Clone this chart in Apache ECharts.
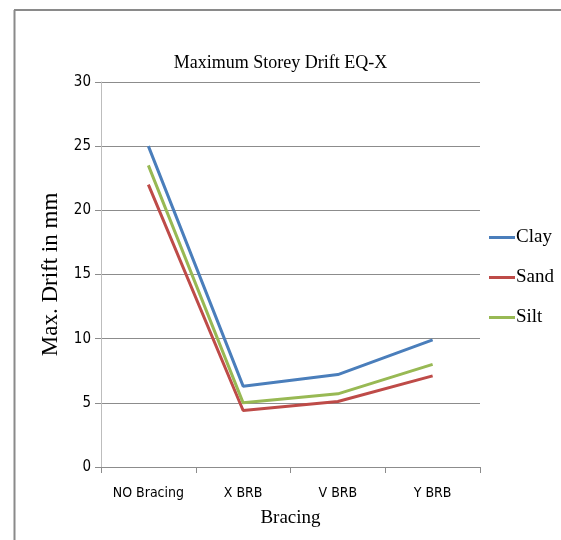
<!DOCTYPE html>
<html>
<head>
<meta charset="utf-8">
<script src="https://cdn.jsdelivr.net/npm/echarts@6/dist/echarts.min.js"></script>
<style>html,body{margin:0;padding:0;background:#fff;}#c{width:561px;height:540px;}</style>
</head>
<body>
<div id="c"></div>
<script>
const categories = ['NO Bracing', 'X BRB', 'V BRB', 'Y BRB'];
const clay = [25, 6.3, 7.2, 9.9];
const sand = [22, 4.4, 5.1, 7.1];
const silt = [23.5, 5.0, 5.7, 8.0];
const yTicks = [0, 5, 10, 15, 20, 25, 30];

const serif = "'Liberation Serif', 'DejaVu Serif', serif";
const narrow = "'Liberation Sans Narrow', 'DejaVu Sans Condensed', 'Liberation Sans', sans-serif";

const chart = echarts.init(document.getElementById('c'), null, {renderer: 'canvas'});
const mk = (name, data, color) => ({
  name, type: 'line', data, symbol: 'none', smooth: false,
  lineStyle: {color, width: 3}, itemStyle: {color}
});
chart.setOption({
  animation: false,
  backgroundColor: '#fff',
  title: {
    text: 'Maximum Storey Drift EQ-X', left: 'center', top: 49,
    textStyle: {fontFamily: serif, fontSize: 18, fontWeight: 'normal', color: '#000'}
  },
  grid: {left: 101, right: 81, top: 82, bottom: 73},
  legend: {
    orient: 'vertical', right: 2, top: 223, itemGap: 21,
    itemWidth: 26, itemHeight: 3, icon: 'rect',
    textStyle: {fontFamily: serif, fontSize: 19, color: '#000', padding: [0, 0, 0, -4]},
    data: ['Clay', 'Sand', 'Silt']
  },
  xAxis: {
    type: 'category', data: categories, boundaryGap: true,
    name: 'Bracing', nameLocation: 'middle', nameGap: 42,
    nameTextStyle: {fontFamily: serif, fontSize: 19, color: '#000'},
    axisLine: {lineStyle: {color: '#8c8c8c', width: 1}},
    axisTick: {show: true, length: 6, lineStyle: {color: '#8c8c8c'}},
    axisLabel: {fontFamily: narrow, fontSize: 14, color: '#000', margin: 19}
  },
  yAxis: {
    type: 'value', min: 0, max: 30, interval: 5,
    name: 'Max. Drift in mm', nameLocation: 'middle', nameGap: 35, nameRotate: 90,
    nameTextStyle: {fontFamily: serif, fontSize: 23, color: '#000'},
    axisLine: {show: true, lineStyle: {color: '#bdbdbd', width: 1}},
    axisTick: {show: true, length: 6, lineStyle: {color: '#8c8c8c'}},
    axisLabel: {fontFamily: narrow, fontSize: 15, color: '#000', margin: 10,
      formatter: v => yTicks.includes(v) ? String(v) : ''},
    splitLine: {show: true, lineStyle: {color: '#8c8c8c', width: 1}}
  },
  graphic: [
    {type: 'line', shape: {x1: 14.5, y1: 10, x2: 14.5, y2: 540}, style: {stroke: '#8a8a8a', lineWidth: 2}},
    {type: 'line', shape: {x1: 14, y1: 10, x2: 561, y2: 10}, style: {stroke: '#8a8a8a', lineWidth: 2}}
  ],
  series: [
    mk('Clay', clay, '#4a7ebb'),
    mk('Sand', sand, '#be4b48'),
    mk('Silt', silt, '#98b954')
  ]
});
</script>
</body>
</html>
